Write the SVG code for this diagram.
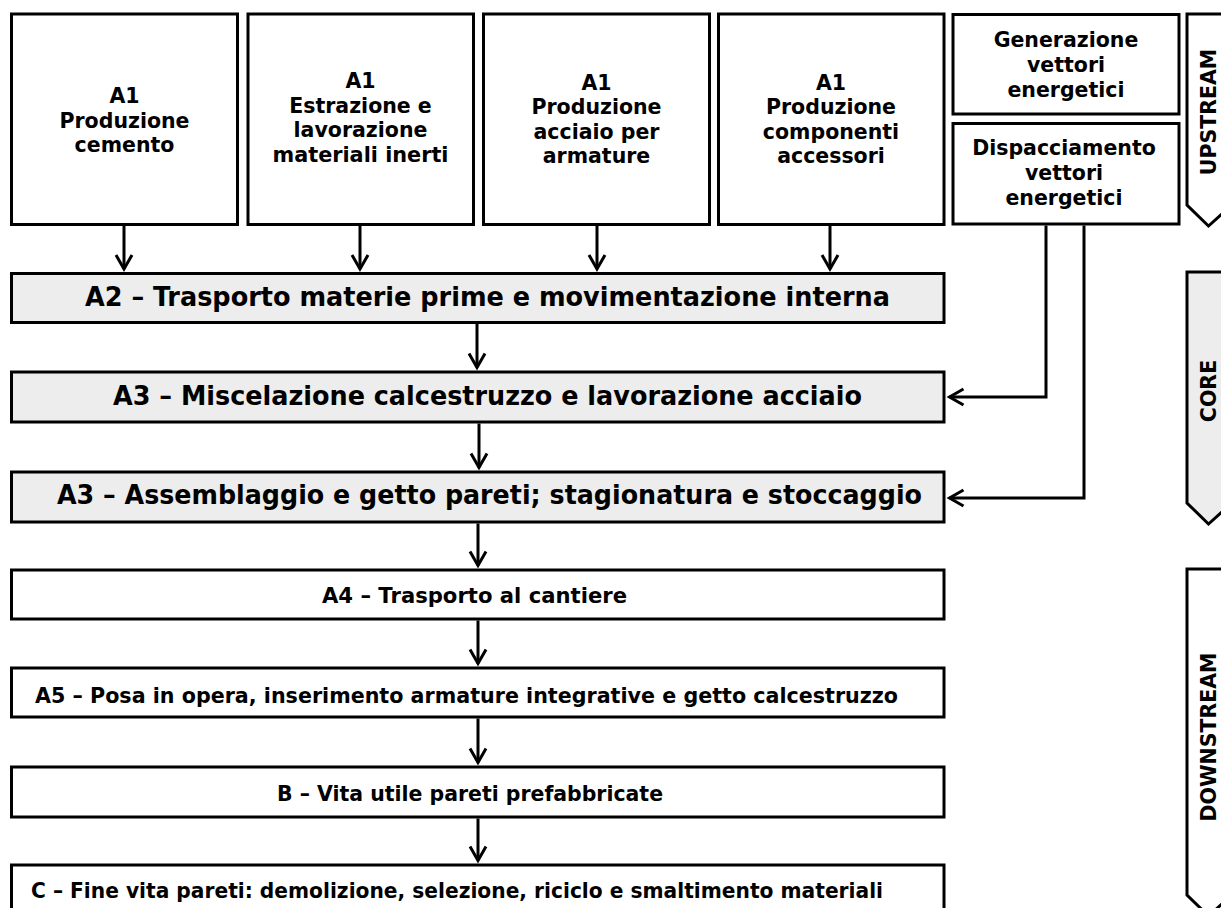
<svg xmlns="http://www.w3.org/2000/svg" width="1221" height="908" viewBox="0 0 1221 908">
<defs>
<style>
.box{fill:#fff;stroke:#000;stroke-width:3}
.grey{fill:#ededed;stroke:#000;stroke-width:3}
.band{stroke:#000;stroke-width:3}
.t{font-family:"DejaVu Sans",Verdana,sans-serif;font-weight:bold;fill:#000}
.top{font-size:20.5px;text-anchor:middle}
.gt{font-family:"DejaVu Sans Condensed","DejaVu Sans",sans-serif;font-stretch:condensed;font-weight:bold;font-size:27px;fill:#000}
.wt{font-size:22px}
.vt{font-size:20.5px;text-anchor:middle}
.conn{fill:none;stroke:#000;stroke-width:3;marker-end:url(#ah)}
</style>
<marker id="ah" markerUnits="userSpaceOnUse" markerWidth="20" markerHeight="20" viewBox="-16 -10 20 20" refX="0" refY="0" orient="auto">
<path d="M-14,-8 L0,0 L-14,8" fill="none" stroke="#000" stroke-width="3"/>
</marker>
</defs>
<rect width="1221" height="908" fill="#fff"/>

<g id="a1-cemento">
<rect class="box" x="11.5" y="14" width="226" height="210.5"/>
<text class="t top" x="124.5"><tspan x="124.5" y="103">A1</tspan><tspan x="124.5" y="127.5">Produzione</tspan><tspan x="124.5" y="152">cemento</tspan></text>
</g>
<g id="a1-inerti">
<rect class="box" x="248" y="14" width="225.5" height="210.5"/>
<text class="t top" x="360.5"><tspan x="360.5" y="88">A1</tspan><tspan x="360.5" y="112.5">Estrazione e</tspan><tspan x="360.5" y="137">lavorazione</tspan></text>
<text class="t top" x="360.5" y="161.5" textLength="176" lengthAdjust="spacingAndGlyphs">materiali inerti</text>
</g>
<g id="a1-acciaio">
<rect class="box" x="483.5" y="14" width="226" height="210.5"/>
<text class="t top" x="596.5"><tspan x="596.5" y="89.5">A1</tspan><tspan x="596.5" y="114">Produzione</tspan><tspan x="596.5" y="138.5">acciaio per</tspan><tspan x="596.5" y="163">armature</tspan></text>
</g>
<g id="a1-componenti">
<rect class="box" x="718.5" y="14" width="225.5" height="210.5"/>
<text class="t top" x="831"><tspan x="831" y="89.5">A1</tspan><tspan x="831" y="114">Produzione</tspan><tspan x="831" y="138.5">componenti</tspan><tspan x="831" y="163">accessori</tspan></text>
</g>
<g id="generazione">
<rect class="box" x="953" y="14.5" width="226" height="99.5"/>
<text class="t top" x="1066"><tspan x="1066" y="47">Generazione</tspan><tspan x="1066" y="72">vettori</tspan><tspan x="1066" y="97">energetici</tspan></text>
</g>
<g id="dispacciamento">
<rect class="box" x="953" y="123.5" width="226" height="100.5"/>
<text class="t top" x="1064"><tspan x="1064" y="155">Dispacciamento</tspan><tspan x="1064" y="180">vettori</tspan><tspan x="1064" y="205">energetici</tspan></text>
</g>

<g id="a2">
<rect class="grey" x="11.5" y="273.5" width="932.5" height="49"/>
<text class="gt" x="85" y="306" textLength="805" lengthAdjust="spacingAndGlyphs">A2 – Trasporto materie prime e movimentazione interna</text>
</g>
<g id="a3-miscelazione">
<rect class="grey" x="11.5" y="372" width="932.5" height="50"/>
<text class="gt" x="113" y="405" textLength="749" lengthAdjust="spacingAndGlyphs">A3 – Miscelazione calcestruzzo e lavorazione acciaio</text>
</g>
<g id="a3-assemblaggio">
<rect class="grey" x="11.5" y="472" width="932.5" height="50"/>
<text class="gt" x="57" y="504" textLength="865" lengthAdjust="spacingAndGlyphs">A3 – Assemblaggio e getto pareti; stagionatura e stoccaggio</text>
</g>
<g id="a4">
<rect class="box" x="11.5" y="570" width="932.5" height="49"/>
<text class="t wt" x="322" y="603" textLength="305" lengthAdjust="spacingAndGlyphs">A4 – Trasporto al cantiere</text>
</g>
<g id="a5">
<rect class="box" x="11.5" y="668" width="932.5" height="49"/>
<text class="t wt" x="35" y="703" textLength="863" lengthAdjust="spacingAndGlyphs">A5 – Posa in opera, inserimento armature integrative e getto calcestruzzo</text>
</g>
<g id="b">
<rect class="box" x="11.5" y="767" width="932.5" height="50"/>
<text class="t wt" x="277" y="801" textLength="386" lengthAdjust="spacingAndGlyphs">B – Vita utile pareti prefabbricate</text>
</g>
<g id="c">
<rect class="box" x="11.5" y="865" width="932.5" height="50"/>
<text class="t wt" x="31" y="898" textLength="852" lengthAdjust="spacingAndGlyphs">C – Fine vita pareti: demolizione, selezione, riciclo e smaltimento materiali</text>
</g>

<g id="upstream">
<path class="band" fill="#fff" d="M1187,14 H1232 V205 L1208.5,226 L1187,205 Z"/>
<text class="t vt" transform="translate(1216,112) rotate(-90)">UPSTREAM</text>
</g>
<g id="core">
<path class="band" fill="#ededed" d="M1187,272 H1232 V503 L1208.5,524 L1187,503 Z"/>
<text class="t vt" transform="translate(1216,391) rotate(-90)">CORE</text>
</g>
<g id="downstream">
<path class="band" fill="#fff" d="M1187,569 H1232 V895 L1208.5,916 L1187,895 Z"/>
<text class="t vt" transform="translate(1216,737) rotate(-90)">DOWNSTREAM</text>
</g>

<g id="connectors">
<path class="conn" d="M124,226 V269"/>
<path class="conn" d="M360,226 V269"/>
<path class="conn" d="M597,226 V269"/>
<path class="conn" d="M830,226 V269"/>
<path class="conn" d="M477,324 V367.5"/>
<path class="conn" d="M479,423.5 V467.5"/>
<path class="conn" d="M478,523.5 V565.5"/>
<path class="conn" d="M478,620.5 V663.5"/>
<path class="conn" d="M478,718.5 V762.5"/>
<path class="conn" d="M478,818.5 V860.5"/>
<path class="conn" d="M1046,225.5 V397 H949.5"/>
<path class="conn" d="M1084,225.5 V498 H949.5"/>
</g>
</svg>
